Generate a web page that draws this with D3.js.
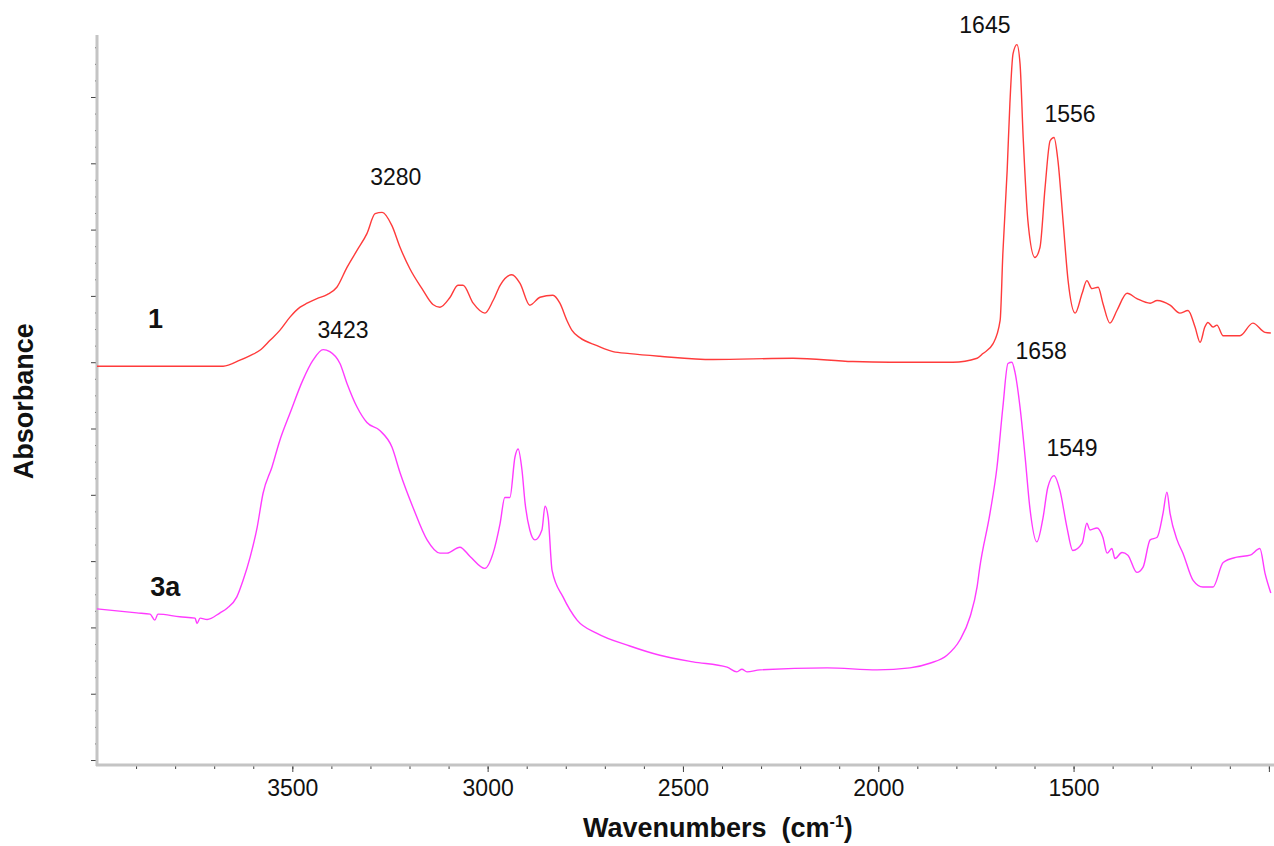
<!DOCTYPE html>
<html>
<head>
<meta charset="utf-8">
<script src="https://cdn.jsdelivr.net/npm/d3@7"></script>
<style>
  body { margin: 0; background: white; }
  text { font-family: Arial, "Liberation Sans", sans-serif; }
</style>
</head>
<body>
<div id="ir_plot"></div>
<script>
// spectrum 1 (red) - wavenumber / absorbance
var wn1 = [4000, 3677, 3634, 3608, 3583, 3557, 3532, 3506, 3480, 3462, 3437, 3411, 3386, 3360, 3334, 3309, 3288, 3270, 3245, 3224,
  3199, 3168, 3140, 3122, 3096, 3076, 3063, 3037, 3007, 2986, 2968, 2938, 2917, 2892, 2866, 2833, 2815, 2797, 2784, 2764,
  2720, 2679, 2636, 2559, 2423, 2218, 2065, 1970, 1809, 1747, 1732, 1706, 1688, 1681, 1670, 1663, 1655, 1645, 1637, 1629,
  1617, 1599, 1586, 1573, 1560, 1550, 1540, 1527, 1514, 1496, 1478, 1466, 1453, 1437, 1425, 1407, 1389, 1363, 1338, 1304,
  1286, 1253, 1228, 1207, 1189, 1176, 1164, 1156, 1143, 1133, 1117, 1074, 1041, 1010, 995];
var abs1 = [0.594, 0.594, 0.603, 0.610, 0.618, 0.633, 0.648, 0.668, 0.683, 0.689, 0.696, 0.702, 0.713, 0.743, 0.769, 0.794, 0.824, 0.826, 0.806, 0.773,
  0.741, 0.711, 0.687, 0.683, 0.698, 0.716, 0.716, 0.689, 0.674, 0.693, 0.716, 0.732, 0.719, 0.686, 0.698, 0.701, 0.689, 0.663, 0.648, 0.637,
  0.625, 0.616, 0.613, 0.609, 0.604, 0.606, 0.601, 0.600, 0.600, 0.606, 0.613, 0.628, 0.663, 0.764, 0.889, 0.990, 1.065, 1.079, 1.050, 0.939,
  0.814, 0.758, 0.773, 0.863, 0.934, 0.939, 0.904, 0.814, 0.723, 0.674, 0.704, 0.723, 0.711, 0.713, 0.689, 0.659, 0.678, 0.704, 0.696, 0.689,
  0.693, 0.686, 0.674, 0.678, 0.653, 0.630, 0.653, 0.660, 0.653, 0.656, 0.640, 0.640, 0.659, 0.645, 0.644];

// spectrum 3a (magenta)
var wn3a = [4000, 3898, 3864, 3852, 3844, 3788, 3749, 3744, 3736, 3718, 3685, 3667, 3642, 3626, 3608, 3590, 3575, 3552, 3532, 3506,
  3473, 3447, 3421, 3404, 3378, 3360, 3334, 3309, 3276, 3245, 3224, 3191, 3155, 3122, 3104, 3071, 3045, 3007, 2986, 2968,
  2956, 2943, 2930, 2922, 2912, 2904, 2892, 2879, 2861, 2853, 2845, 2835, 2807, 2771, 2720, 2636, 2559, 2474, 2387, 2362,
  2349, 2336, 2303, 2131, 2003, 1919, 1868, 1824, 1791, 1765, 1747, 1740, 1714, 1696, 1681, 1668, 1658, 1650, 1637, 1624,
  1612, 1594, 1578, 1566, 1550, 1535, 1517, 1502, 1478, 1466, 1458, 1440, 1425, 1414, 1402, 1394, 1376, 1361, 1338, 1322,
  1304, 1286, 1271, 1261, 1253, 1235, 1220, 1194, 1169, 1143, 1117, 1082, 1048, 1023, 1010, 995];
var abs3a = [0.228, 0.222, 0.220, 0.211, 0.220, 0.216, 0.214, 0.206, 0.214, 0.212, 0.222, 0.229, 0.246, 0.271, 0.306, 0.351, 0.402, 0.442, 0.482, 0.523,
  0.573, 0.603, 0.619, 0.616, 0.598, 0.568, 0.532, 0.509, 0.497, 0.472, 0.433, 0.381, 0.332, 0.312, 0.312, 0.321, 0.307, 0.289, 0.312, 0.357,
  0.396, 0.396, 0.457, 0.469, 0.437, 0.387, 0.347, 0.332, 0.347, 0.383, 0.366, 0.286, 0.246, 0.211, 0.191, 0.172, 0.158, 0.148, 0.140, 0.133,
  0.137, 0.133, 0.136, 0.139, 0.136, 0.139, 0.146, 0.158, 0.181, 0.216, 0.261, 0.291, 0.372, 0.442, 0.532, 0.598, 0.600, 0.585, 0.532, 0.457,
  0.381, 0.329, 0.366, 0.411, 0.429, 0.407, 0.351, 0.316, 0.327, 0.357, 0.347, 0.350, 0.336, 0.312, 0.319, 0.304, 0.313, 0.309, 0.283, 0.291,
  0.332, 0.336, 0.372, 0.404, 0.372, 0.332, 0.312, 0.271, 0.261, 0.261, 0.298, 0.306, 0.309, 0.319, 0.282, 0.252];

// peak annotations (anchor = where the text sits)
var peak_labels = ["3280", "3423", "1645", "1556", "1658", "1549"];
var peak_wn = [3235, 3370, 1727, 1509, 1583, 1504];
var peak_abs = [0.868, 0.636, 1.097, 0.963, 0.605, 0.458];

// spectrum names
var series_names = ["1", "3a"];
var series_wn = [3850, 3825];
var series_abs = [0.652, 0.247];

var xMajor = [3500, 3000, 2500, 2000, 1500, 1000];
var xLabelled = [3500, 3000, 2500, 2000, 1500];

var margin = {left: 97, top: 35, right: 2, bottom: 81};
var width = 1274 - margin.left - margin.right;
var height = 846 - margin.top - margin.bottom;

var svg = d3.select("#ir_plot").append("svg")
    .attr("width", 1274)
    .attr("height", 846)
  .append("g")
    .attr("transform", "translate(" + margin.left + "," + margin.top + ")");

// wavenumbers run right to left
var x = d3.scaleLinear().domain([4000, 992]).range([0, width]);
var y = d3.scaleLinear().domain([-0.0075, 1.0935]).range([height, 0]);

var line = d3.line()
    .curve(d3.curveMonotoneX)
    .x(function(d) { return x(d[0]); })
    .y(function(d) { return y(d[1]); });

var tickColor = "#444";
var axisColor = "#c4c4c4";

// minor y ticks
svg.append("g")
    .attr("class", "axis")
    .call(d3.axisLeft(y)
        .tickValues(d3.range(0, 1.09, 0.025))
        .tickSize(2)
        .tickFormat(""));

// major y ticks
svg.append("g")
    .attr("class", "axis")
    .call(d3.axisLeft(y)
        .tickValues(d3.range(0, 1.05, 0.1))
        .tickSize(6)
        .tickFormat(""));

// minor x ticks
svg.append("g")
    .attr("class", "axis")
    .attr("transform", "translate(0," + height + ")")
    .call(d3.axisBottom(x)
        .tickValues(d3.range(3900, 990, -100))
        .tickSize(4)
        .tickFormat(""));

// major x ticks + labels
svg.append("g")
    .attr("class", "axis xlab")
    .attr("transform", "translate(0," + height + ")")
    .call(d3.axisBottom(x)
        .tickValues(xMajor)
        .tickSize(7)
        .tickPadding(8)
        .tickFormat(function(d) { return xLabelled.indexOf(d) >= 0 ? d : ""; }));

svg.selectAll(".axis path").remove();
svg.selectAll(".axis line")
    .style("stroke", tickColor)
    .style("stroke-width", 1);
svg.selectAll(".xlab text")
    .style("font-size", "23px")
    .style("fill", "#111");

// gray axis lines
svg.append("line")
    .attr("x1", 0).attr("x2", 0)
    .attr("y1", 0).attr("y2", height + 1)
    .style("stroke", axisColor)
    .style("stroke-width", 3);
svg.append("line")
    .attr("x1", -1).attr("x2", width + 2)
    .attr("y1", height).attr("y2", height)
    .style("stroke", axisColor)
    .style("stroke-width", 3);

// spectra
svg.append("path")
    .datum(d3.zip(wn1, abs1))
    .attr("fill", "none")
    .attr("stroke", "#ff3b3b")
    .attr("stroke-width", 1.4)
    .attr("d", line);

svg.append("path")
    .datum(d3.zip(wn3a, abs3a))
    .attr("fill", "none")
    .attr("stroke", "#ff3bff")
    .attr("stroke-width", 1.4)
    .attr("d", line);

// peak labels
for (var i = 0; i < peak_labels.length; i++) {
  svg.append("text")
      .attr("x", x(peak_wn[i]))
      .attr("y", y(peak_abs[i]))
      .attr("text-anchor", "middle")
      .style("font-size", "23px")
      .style("fill", "#111")
      .text(peak_labels[i]);
}

// series names
for (i = 0; i < series_names.length; i++) {
  svg.append("text")
      .attr("x", x(series_wn[i]))
      .attr("y", y(series_abs[i]))
      .attr("text-anchor", "middle")
      .style("font-size", "27px")
      .style("font-weight", "bold")
      .style("fill", "#111")
      .text(series_names[i]);
}

// axis titles
var xt = svg.append("text")
    .attr("x", x(2500) + 35)
    .attr("y", height + 72)
    .attr("text-anchor", "middle")
    .attr("xml:space", "preserve")
    .style("font-size", "27px")
    .style("font-weight", "bold")
    .style("fill", "#111");
xt.append("tspan").text("Wavenumbers\u00a0\u00a0(cm");
xt.append("tspan").attr("dy", -10).style("font-size", "16px").text("-1");
xt.append("tspan").attr("dy", 10).text(")");

svg.append("text")
    .attr("transform", "translate(" + (-64) + "," + (y(0.541)) + ") rotate(-90)")
    .attr("text-anchor", "middle")
    .style("font-size", "27px")
    .style("font-weight", "bold")
    .style("fill", "#111")
    .text("Absorbance");
</script>
</body>
</html>
